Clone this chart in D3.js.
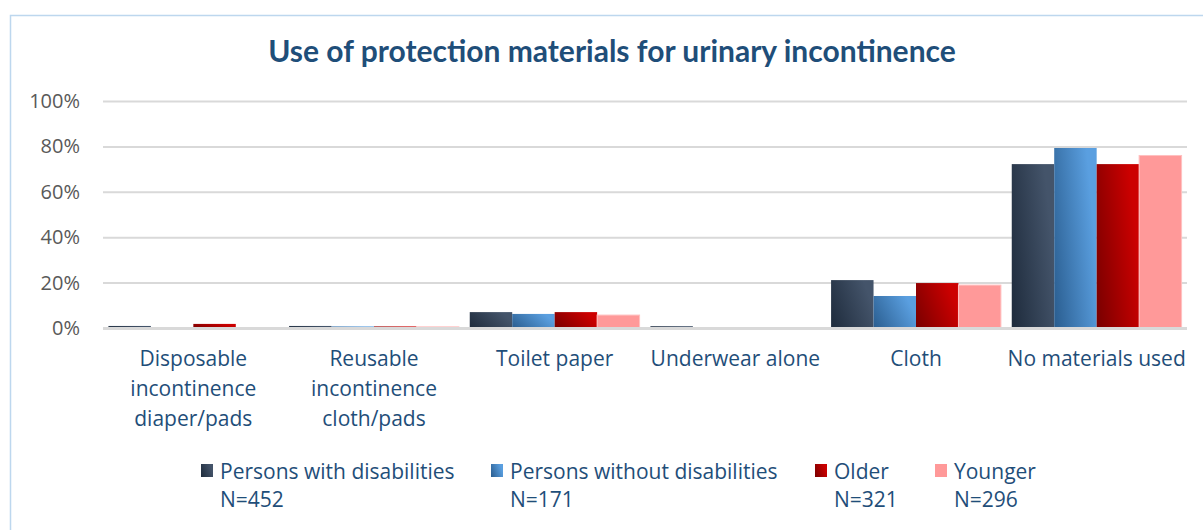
<!DOCTYPE html>
<html>
<head>
<meta charset="utf-8">
<script src="https://cdn.jsdelivr.net/npm/d3@7"></script>
<style>
  html, body { margin: 0; padding: 0; background: #ffffff; }
  svg { display: block; }
</style>
</head>
<body>
<svg id="chart" width="1203" height="530"></svg>
<script>
// Categories (each label split into display lines)
const categories = [
  ["Disposable", "incontinence", "diaper/pads"],
  ["Reusable", "incontinence", "cloth/pads"],
  ["Toilet paper"],
  ["Underwear alone"],
  ["Cloth"],
  ["No materials used"]
];
const seriesNames = ["Persons with disabilities", "Persons without disabilities", "Older", "Younger"];
const seriesN = ["N=452", "N=171", "N=321", "N=296"];

// Shares per category, one array per series
const withDisabilities    = [0.009, 0.009, 0.070, 0.008, 0.211, 0.722];
const withoutDisabilities = [0.000, 0.007, 0.062, 0.000, 0.141, 0.793];
const older               = [0.018, 0.007, 0.070, 0.000, 0.198, 0.722];
const younger             = [0.000, 0.005, 0.057, 0.000, 0.189, 0.760];
const seriesValues = [withDisabilities, withoutDisabilities, older, younger];

const yTicks = [0, 0.2, 0.4, 0.6, 0.8, 1.0];

const svg = d3.select("#chart");
const W = 1203, H = 530;
const plot = { left: 103, right: 1187, top: 101, bottom: 328 };

// Gradient fills for the bars
const defs = svg.append("defs");
const gradStops = [
  ["#1e2b3c", "#44546a"],
  ["#2a5d8f", "#5a9fe0"],
  ["#780000", "#cc0000"],
  ["#ff9999", "#ff9999"]
];
gradStops.forEach((s, i) => {
  const g = defs.append("linearGradient")
    .attr("id", "g" + i)
    .attr("x1", 0).attr("y1", 1).attr("x2", 1).attr("y2", 0.6);
  g.append("stop").attr("offset", "0%").attr("stop-color", s[0]);
  g.append("stop").attr("offset", "100%").attr("stop-color", s[1]);
});

// Frame
svg.append("path")
  .attr("d", `M10.5,${H} V15.5 H${W}`)
  .attr("fill", "none")
  .attr("stroke", "#bdd7ee")
  .attr("stroke-width", 1.5);

// Title
svg.append("text")
  .attr("x", 612).attr("y", 62)
  .attr("text-anchor", "middle")
  .attr("font-family", "Lato, 'Open Sans', sans-serif")
  .attr("font-weight", "bold")
  .attr("font-size", 30)
  .attr("fill", "#1f4e79")
  .text("Use of protection materials for urinary incontinence");

const x0 = d3.scaleBand()
  .domain(d3.range(categories.length))
  .range([plot.left, plot.right])
  .paddingInner(0.06)
  .paddingOuter(0.03);

const x1 = d3.scaleBand()
  .domain(d3.range(seriesNames.length))
  .range([0, x0.bandwidth()]);

const y = d3.scaleLinear().domain([0, 1]).range([plot.bottom, plot.top]);

// Gridlines and y labels
const yAxis = d3.axisLeft(y)
  .tickValues(yTicks)
  .tickFormat(d3.format(".0%"))
  .tickSize(-(plot.right - plot.left))
  .tickPadding(23);

const ya = svg.append("g")
  .attr("transform", `translate(${plot.left},0)`)
  .call(yAxis);
ya.select(".domain").remove();
ya.selectAll(".tick line")
  .attr("stroke", "#d9d9d9")
  .attr("stroke-width", 2);
ya.selectAll(".tick text")
  .attr("font-family", "'Open Sans', sans-serif")
  .attr("font-size", 20)
  .attr("fill", "#595959");

// Bars
const groups = svg.append("g").selectAll("g")
  .data(categories.map((c, i) => i))
  .join("g")
  .attr("transform", i => `translate(${x0(i)},0)`);

groups.selectAll("rect")
  .data(ci => seriesValues.map((vals, si) => ({ si, v: vals[ci] })))
  .join("rect")
  .attr("x", d => x1(d.si))
  .attr("width", x1.bandwidth())
  .attr("y", d => y(d.v))
  .attr("height", d => y(0) - y(d.v))
  .attr("fill", d => `url(#g${d.si})`)
  .attr("stroke", d => d.si === 3 && d.v > 0 ? "#ffc0c0" : "none")
  .attr("stroke-width", 1);

// Baseline
svg.append("line")
  .attr("x1", plot.left).attr("x2", plot.right)
  .attr("y1", y(0) + 0.5).attr("y2", y(0) + 0.5)
  .attr("stroke", "#d9d9d9")
  .attr("stroke-width", 3);

// Category labels
const catLabels = svg.append("g")
  .attr("font-family", "'Open Sans', sans-serif")
  .attr("font-size", 21)
  .attr("fill", "#1f4e79")
  .attr("text-anchor", "middle");

categories.forEach((lines, i) => {
  const t = catLabels.append("text")
    .attr("x", x0(i) + x0.bandwidth() / 2)
    .attr("y", 366);
  lines.forEach((ln, j) => {
    t.append("tspan")
      .attr("x", x0(i) + x0.bandwidth() / 2)
      .attr("dy", j === 0 ? 0 : 30)
      .text(ln);
  });
});

// Legend
const legendX = [201, 491, 815, 935];
const legend = svg.append("g")
  .attr("font-family", "'Open Sans', sans-serif")
  .attr("font-size", 21)
  .attr("fill", "#1f4e79");

seriesNames.forEach((name, i) => {
  legend.append("rect")
    .attr("x", legendX[i]).attr("y", 464)
    .attr("width", 12).attr("height", 13)
    .attr("fill", `url(#g${i})`);
  legend.append("text")
    .attr("x", legendX[i] + 19).attr("y", 479)
    .text(name);
  legend.append("text")
    .attr("x", legendX[i] + 19).attr("y", 507)
    .text(seriesN[i]);
});
</script>
</body>
</html>
